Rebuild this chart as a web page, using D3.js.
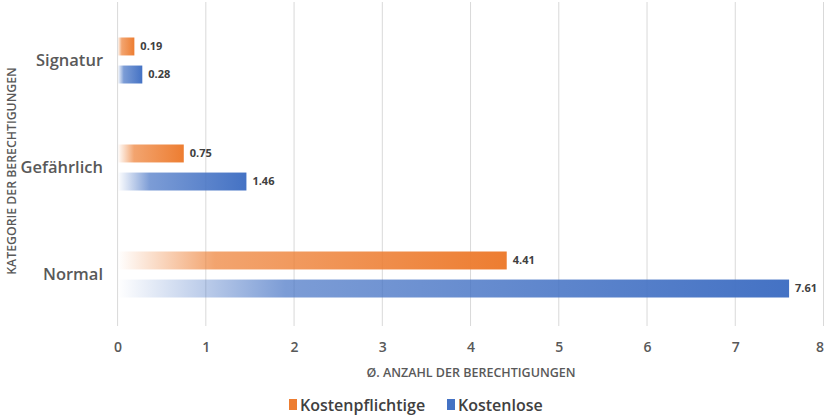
<!DOCTYPE html>
<html><head><meta charset="utf-8">
<script src="https://cdn.jsdelivr.net/npm/d3@7"></script>
<style>body{margin:0;background:#fff;} svg{display:block;}</style>
</head><body>
<svg id="chart" width="825" height="416"></svg>
<script>
const categories = ["Signatur", "Gefährlich", "Normal"];
const seriesNames = ["Kostenpflichtige", "Kostenlose"];
const kostenpflichtige = [0.19, 0.75, 4.41];
const kostenlose = [0.28, 1.46, 7.61];
const xTicks = [0, 1, 2, 3, 4, 5, 6, 7, 8];
const colors = ["#ED7D31", "#4472C4"];

const svg = d3.select("#chart");
const font = "'Open Sans', Lato, sans-serif";
const x = d3.scaleLinear().domain([0, 8]).range([117.6, 823.5]);
const y = d3.scaleBand().domain(categories).range([7, 328]);
const ySub = d3.scaleBand().domain(seriesNames).range([y.bandwidth()/2 - 23, y.bandwidth()/2 + 23]).paddingInner(0.36);

const defs = svg.append("defs");
colors.forEach((c, i) => {
  const g = defs.append("linearGradient").attr("id", "grad" + i).attr("x1", "0").attr("x2", "1").attr("y1", "0").attr("y2", "0");
  g.append("stop").attr("offset", "0%").attr("stop-color", c).attr("stop-opacity", 0);
  g.append("stop").attr("offset", "25%").attr("stop-color", c).attr("stop-opacity", 0.7);
  g.append("stop").attr("offset", "100%").attr("stop-color", c).attr("stop-opacity", 1);
});

// gridlines
svg.append("g").selectAll("line").data(xTicks).join("line")
  .attr("x1", d => x(d)).attr("x2", d => x(d))
  .attr("y1", 2).attr("y2", 326)
  .attr("stroke", "#d9d9d9").attr("stroke-width", 1);

// x tick labels
const xAxis = d3.axisBottom(x).tickValues(xTicks).tickSize(0).tickPadding(0).tickFormat(d3.format("d"));
const xg = svg.append("g").attr("transform", "translate(0,342)").call(xAxis);
xg.select(".domain").remove();
xg.selectAll("text").attr("font-family", font).attr("font-size", 14).attr("font-weight", 600).attr("fill", "#595959");
xg.selectAll(".tick").filter(d => d === 8).select("text").attr("dx", -4);

// category labels
const yAxis = d3.axisLeft(y).tickSize(0).tickPadding(0);
const yg = svg.append("g").attr("transform", "translate(103,0)").call(yAxis);
yg.select(".domain").remove();
yg.selectAll("text").attr("font-family", font).attr("font-size", 16.5).attr("font-weight", 600).attr("fill", "#595959");

const seriesData = [kostenpflichtige, kostenlose];
seriesData.forEach((vals, si) => {
  const g = svg.append("g");
  g.selectAll("rect").data(vals).join("rect")
    .attr("x", x(0))
    .attr("y", (d, i) => y(categories[i]) + ySub(seriesNames[si]))
    .attr("width", d => x(d) - x(0))
    .attr("height", ySub.bandwidth())
    .attr("fill", "url(#grad" + si + ")");
  g.selectAll("text").data(vals).join("text")
    .attr("x", d => x(d) + 6)
    .attr("y", (d, i) => y(categories[i]) + ySub(seriesNames[si]) + ySub.bandwidth()/2)
    .attr("dy", "0.35em")
    .attr("font-family", font).attr("font-size", 11).attr("font-weight", 700).attr("fill", "#404040")
    .text(d => d);
});

// axis titles
svg.append("text").attr("transform", "translate(16,171) rotate(-90)")
  .attr("text-anchor", "middle").attr("font-family", font).attr("font-size", 12.3).attr("font-weight", 600).attr("fill", "#595959")
  .text("KATEGORIE DER BERECHTIGUNGEN");
svg.append("text").attr("x", 471).attr("y", 377)
  .attr("text-anchor", "middle").attr("font-family", font).attr("font-size", 12.5).attr("font-weight", 600).attr("fill", "#595959")
  .text("Ø. ANZAHL DER BERECHTIGUNGEN");

// legend
const legend = svg.append("g");
const legX = [289, 447];
seriesNames.forEach((s, i) => {
  legend.append("rect").attr("x", legX[i]).attr("y", 399).attr("width", 8).attr("height", 11).attr("fill", colors[i]);
  legend.append("text").attr("x", legX[i] + 11).attr("y", 405).attr("dy", "0.35em")
    .attr("font-family", font).attr("font-size", 16).attr("font-weight", 600).attr("fill", "#404040").text(s);
});
</script>
</body></html>
